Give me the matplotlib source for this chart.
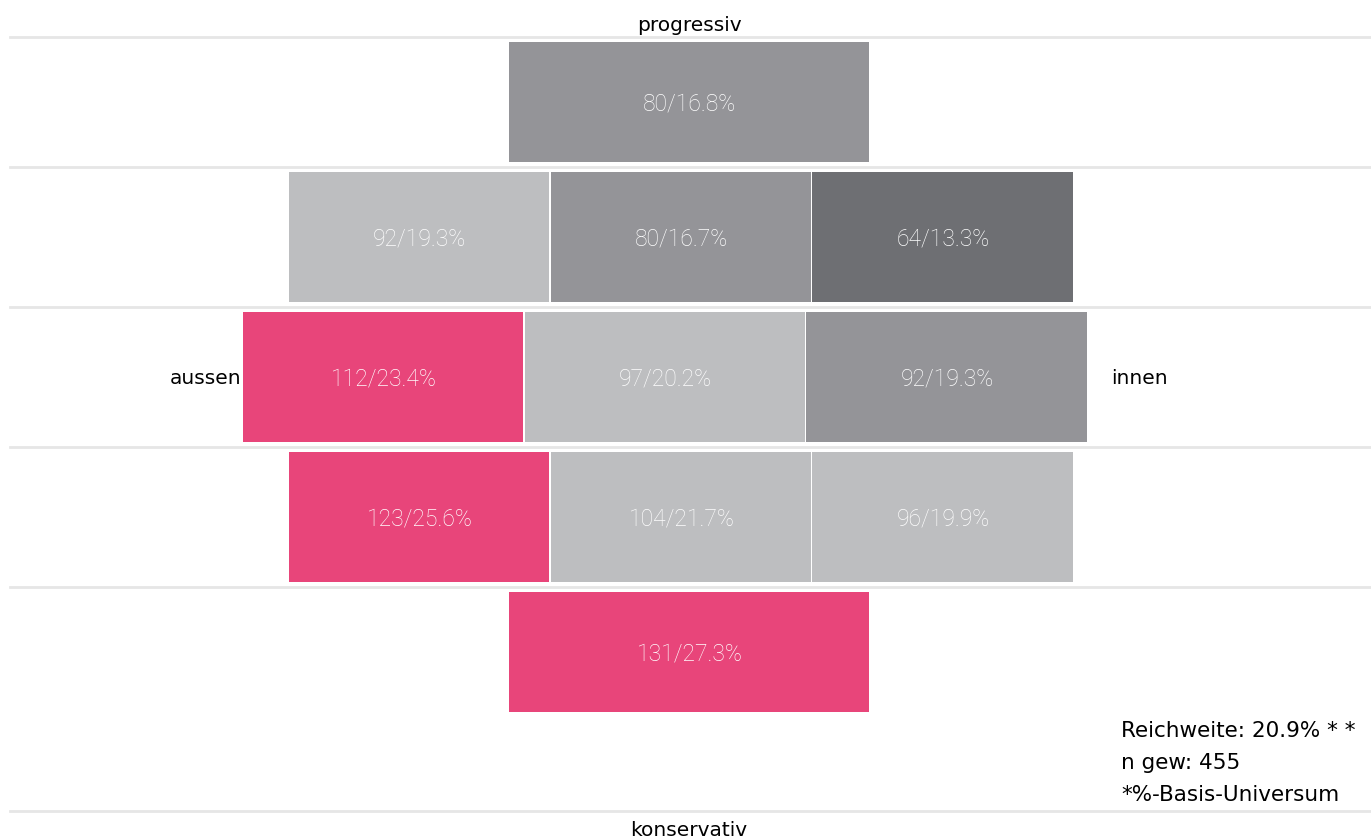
import matplotlib.pyplot as plt
from matplotlib.patches import Rectangle

# Werte je Zeile (oben = progressiv, unten = konservativ)
zeile1 = ['80/16.8%']
zeile2 = ['92/19.3%', '80/16.7%', '64/13.3%']
zeile3 = ['112/23.4%', '97/20.2%', '92/19.3%']
zeile4 = ['123/25.6%', '104/21.7%', '96/19.9%']
zeile5 = ['131/27.3%']

PINK = '#e8457a'
HELL = '#bdbec0'
MITTEL = '#949498'
DUNKEL = '#6e6f73'

farben1 = [MITTEL]
farben2 = [HELL, MITTEL, DUNKEL]
farben3 = [PINK, HELL, MITTEL]
farben4 = [PINK, HELL, HELL]
farben5 = [PINK]

fussnote = ['Reichweite: 20.9% * *', 'n gew: 455', '*%-Basis-Universum']

# Layout der Zeilen (Pixel): links, Zellbreite, oben, Hoehe
layout = [
    (509, 361, 43, 120),
    (289, 261.7, 173, 130),
    (243, 281.7, 313, 130),
    (289, 261.7, 453, 130),
    (509, 361, 593, 120),
]
zeilen = [zeile1, zeile2, zeile3, zeile4, zeile5]
farben = [farben1, farben2, farben3, farben4, farben5]

fig = plt.figure(figsize=(13.71, 8.37), dpi=100)
ax = fig.add_axes([0, 0, 1, 1])
ax.set_xlim(0, 1371)
ax.set_ylim(837, 0)
ax.axis('off')

# Trennlinien
for y in [38, 168, 308, 448, 588, 812]:
    ax.plot([10, 1371], [y, y], color='#e6e6e6', lw=2, zorder=1)

for werte, cols, (links, breite, oben, hoehe) in zip(zeilen, farben, layout):
    for i, (w, c) in enumerate(zip(werte, cols)):
        x0 = links + i * breite
        ax.add_patch(Rectangle((x0, oben), breite - 1.5, hoehe, facecolor=c,
                               edgecolor='none', zorder=2))
        ax.text(x0 + breite / 2, oben + hoehe / 2 + 1, w, color='white',
                fontsize=16.5, fontfamily='Roboto', fontweight='light',
                ha='center', va='center', zorder=3)

etikett = dict(fontsize=14.5, fontfamily='DejaVu Sans', fontweight='normal',
               color='#000000', va='center')
ax.text(689, 25, 'progressiv', ha='center', **etikett)
ax.text(689, 831, 'konservativ', ha='center', **etikett)
ax.text(241, 378, 'aussen', ha='right', **etikett)
ax.text(1111, 378, 'innen', ha='left', **etikett)

for k, t in enumerate(fussnote):
    ax.text(1121, 731 + 32 * k, t, fontsize=15.5, fontfamily='DejaVu Sans',
            color='#000000', ha='left', va='center')

plt.savefig('out.png', dpi=100)
